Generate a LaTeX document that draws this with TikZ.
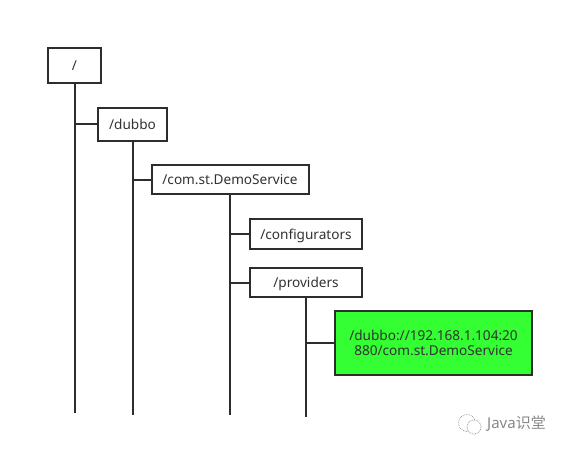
\documentclass[tikz,border=0pt]{standalone}
\usepackage{fontspec}
\setmainfont{Noto Sans}
\newfontfamily\cjk{Noto Sans CJK SC}
\definecolor{line_color}{RGB}{45, 45, 45}
\definecolor{text_color}{RGB}{50, 50, 50}
\definecolor{leaf_color}{RGB}{51, 255, 51}
\definecolor{mark_color}{RGB}{135, 135, 135}

\begin{document}
\begin{tikzpicture}[
    x=1pt, y=-1pt,
    znode/.style={draw=line_color, line width=2pt, fill=white, inner sep=0pt,
                  align=center, text=text_color, text depth=0pt,
                  font=\fontsize{13.6}{15.5}\selectfont},
    link/.style={draw=line_color, line width=2pt}]
    \useasboundingbox (0,0) rectangle (564,449);
    % tree nodes
    \node[znode, minimum width=53pt, minimum height=35pt] (root) at (74.5,65.5) {/};
    \node[znode, minimum width=69pt, minimum height=33pt] (dubbo) at (132.5,124.5) {/dubbo};
    \node[znode, minimum width=157pt, minimum height=29pt] (service) at (230,179.5) {/com.st.DemoService};
    \node[znode, minimum width=112pt, minimum height=30pt] (config) at (306,234) {/configurators};
    \node[znode, minimum width=112pt, minimum height=29pt] (providers) at (306,282.5) {/providers};
    \node[znode, fill=leaf_color, minimum width=197pt, minimum height=64pt] (url) at (433.5,343)
      {/dubbo://192.168.1.104:20\\880/com.st.DemoService};
    % free ends of the trunks
    \coordinate (rootend) at (root.south |- 0,413);
    \coordinate (dubboend) at (dubbo.south |- 0,415);
    \coordinate (serviceend) at (service.south |- 0,415);
    \coordinate (providersend) at (providers.south |- 0,417);
    \draw[link] (root) -- (rootend);
    \draw[link] (dubbo) -- (dubboend);
    \draw[link] (service) -- (serviceend);
    \draw[link] (providers) -- (providersend);
    \draw[link] (dubbo.west) -- (dubbo.west -| root);
    \draw[link] (service.west) -- (service.west -| dubbo);
    \draw[link] (config.west) -- (config.west -| service);
    \draw[link] (providers.west) -- (providers.west -| service);
    \draw[link] (url.west) -- (url.west -| providers);
    % watermark
    \node[circle, draw=mark_color, densely dotted, line width=0.7pt, inner sep=0pt,
          minimum size=17pt] (bubblea) at (467,423) {};
    \node[circle, draw=mark_color, densely dotted, fill=white, line width=0.7pt, inner sep=0pt,
          minimum size=14pt] (bubbleb) at (474,427) {};
    \node[text=mark_color, inner sep=0pt, anchor=west,
          font=\fontsize{15}{17}\selectfont] (mark) at (487,423.5) {Java{\cjk 识堂}};
\end{tikzpicture}
\end{document}
